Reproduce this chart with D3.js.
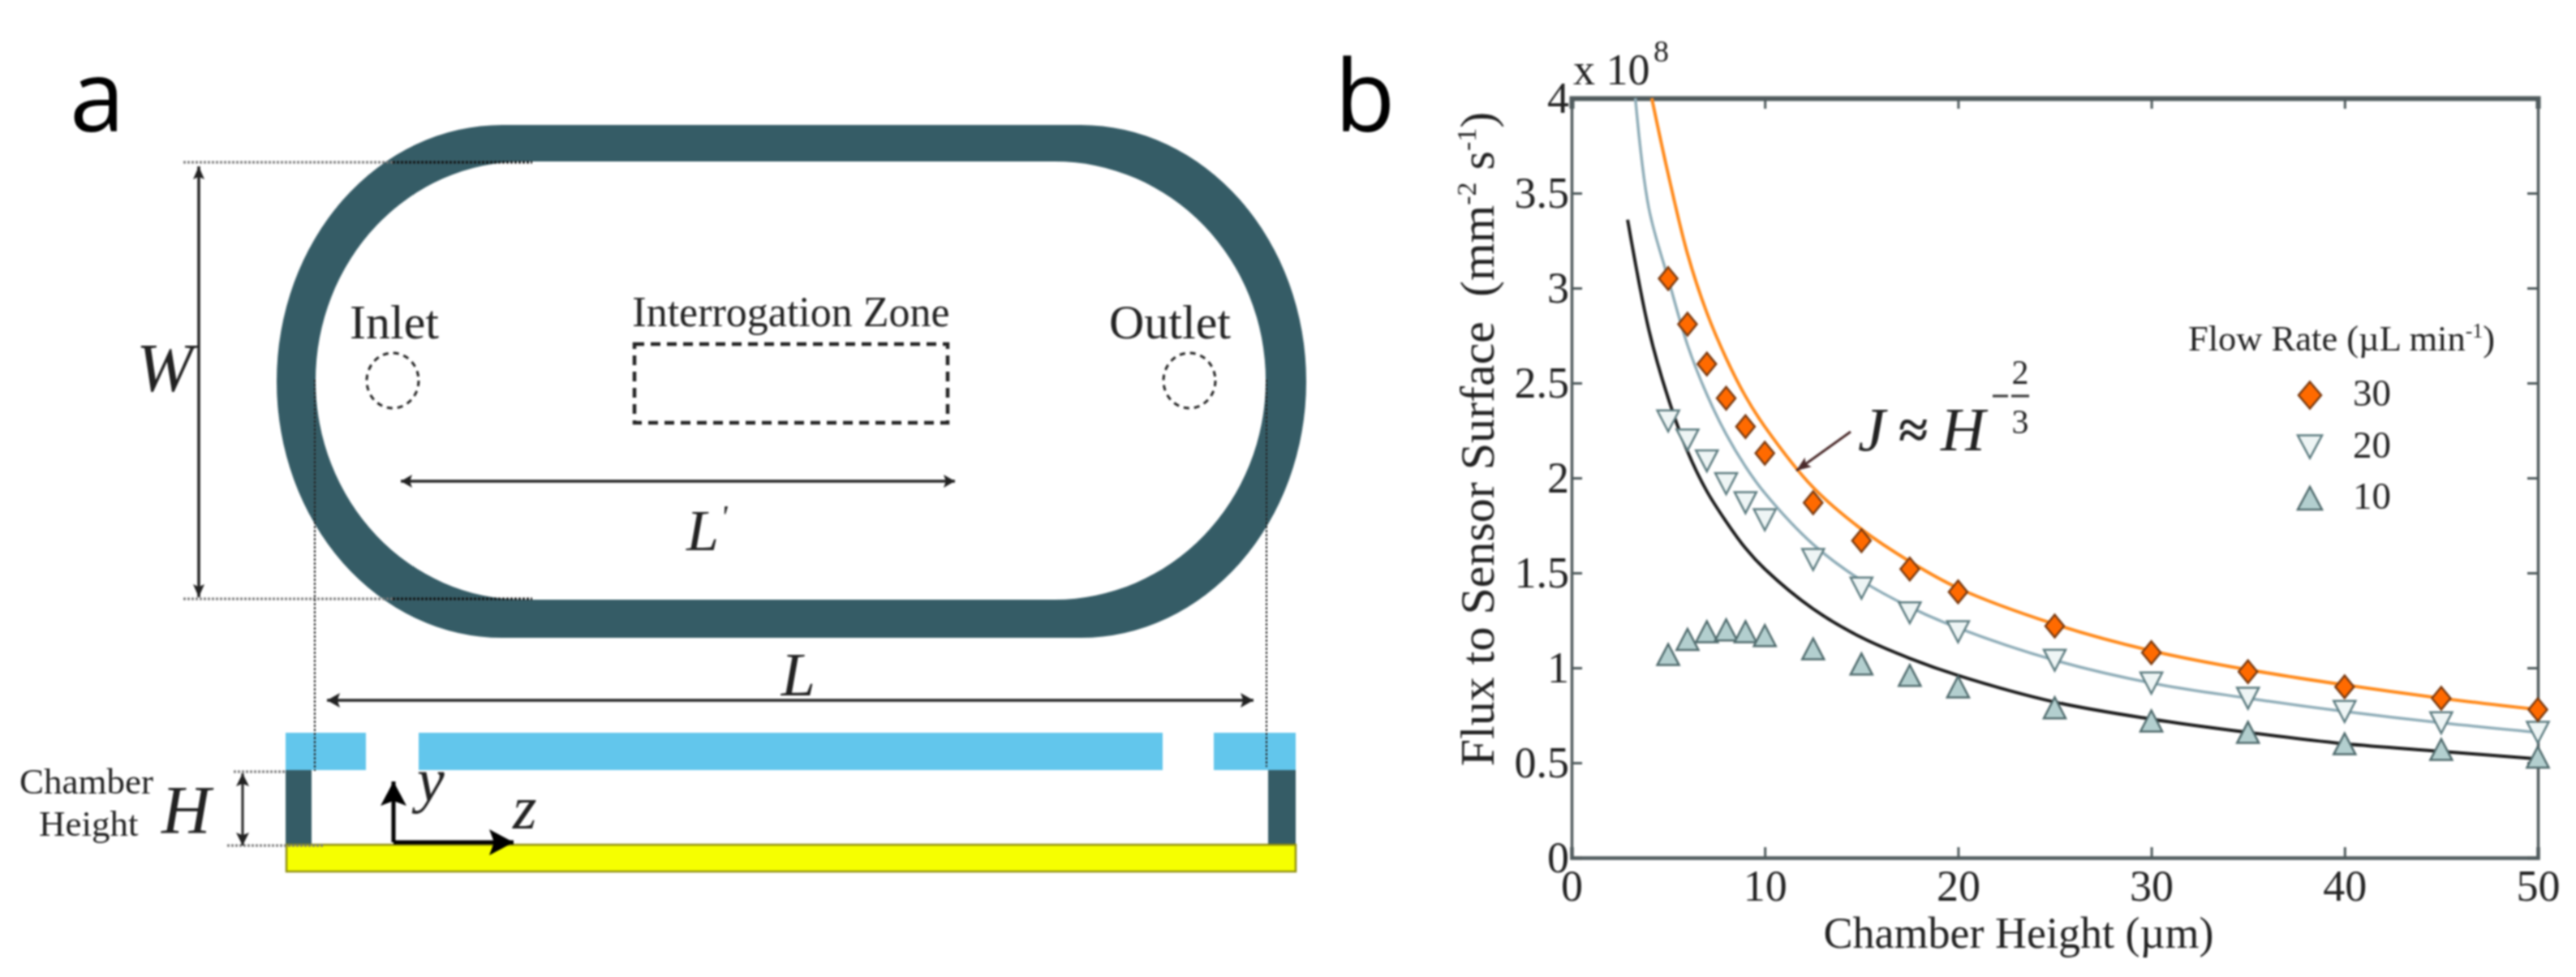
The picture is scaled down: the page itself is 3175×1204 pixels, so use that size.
<!DOCTYPE html>
<html><head><meta charset="utf-8">
<script src="https://cdn.jsdelivr.net/npm/d3@7"></script>
<style>
html,body{margin:0;padding:0;background:#fff}
svg{display:block;filter:blur(1.1px)}
text{font-family:"Liberation Serif",serif;fill:#222}
</style></head><body>
<svg id="c" width="3175" height="1204"></svg>
<script>
// ---- data ----
const heights = [5,6,7,8,9,10,12.5,15,17.5,20,25,30,35,40,45,50];
const flux30 = [3.05,2.81,2.60,2.42,2.27,2.13,1.87,1.67,1.52,1.40,1.22,1.08,0.98,0.90,0.84,0.78];
const flux20 = [2.30,2.20,2.09,1.97,1.87,1.78,1.57,1.42,1.29,1.19,1.04,0.92,0.84,0.77,0.71,0.66];
const flux10 = [1.07,1.15,1.19,1.20,1.19,1.17,1.10,1.02,0.96,0.90,0.79,0.72,0.66,0.60,0.57,0.53];
const fit30X = [4.15,5,6,7,8,9,10,12.5,15,17.5,20,25,30,35,40,45,50];
const fit30Y = [4.0,3.6,3.18,2.87,2.63,2.43,2.27,1.95,1.73,1.56,1.42,1.23,1.09,0.99,0.91,0.84,0.78];
const fit20X = [3.3,4,5,6,7,8,9,10,12.5,15,17.5,20,25,30,35,40,45,50];
const fit20Y = [4.0,3.42,3.05,2.70,2.44,2.23,2.06,1.92,1.65,1.46,1.32,1.21,1.04,0.92,0.84,0.77,0.71,0.66];
const fit10X = [2.9,4,5,6,7,8,9,10,12.5,15,17.5,20,25,30,35,40,45,50];
const fit10Y = [3.36,2.78,2.42,2.14,1.93,1.77,1.63,1.52,1.31,1.16,1.05,0.96,0.82,0.73,0.66,0.60,0.56,0.52];
const xTicks = [0,10,20,30,40,50];
const yTicks = [0,0.5,1,1.5,2,2.5,3,3.5,4];
const yTickLabels = ["0","0.5","1","1.5","2","2.5","3","3.5","4"];
const legendRates = ["30","20","10"];

const svg = d3.select("#c");
const dark = "#355c66";

function arrowHead(g,x,y,ang,len,w,col){
  const c=Math.cos(ang),s=Math.sin(ang);
  const p=[[x,y],[x-len*c+w*s,y-len*s-w*c],[x-len*c*0.8,y-len*s*0.8],[x-len*c-w*s,y-len*s+w*c]];
  g.append("path").attr("d",d3.line()(p)+"Z").attr("fill",col);
}
function arrow(g,x1,y1,x2,y2,opt={}){
  const col=opt.col||"#222",sw=opt.sw||3.5,len=opt.len||16,w=opt.w||8;
  g.append("line").attr("x1",x1).attr("y1",y1).attr("x2",x2).attr("y2",y2).attr("stroke",col).attr("stroke-width",sw);
  const a=Math.atan2(y2-y1,x2-x1);
  arrowHead(g,x2,y2,a,len,w,col);
  if(opt.both) arrowHead(g,x1,y1,a+Math.PI,len,w,col);
}
function txt(g,x,y,s,size,o={}){
  return g.append("text").attr("x",x).attr("y",y).text(s).attr("font-size",size)
    .attr("text-anchor",o.anchor||"start").attr("font-style",o.italic?"italic":null);
}

// ---- panel a: schematic ----
const a = svg.append("g");
txt(a,86,162,"a",122).style("font-family","'Open Sans'").style("fill","#000");
txt(svg,1645,162,"b",122).style("font-family","'Open Sans'").style("fill","#000");

a.append("path").attr("fill-rule","evenodd").attr("fill",dark).attr("d",
 "M619,154 L1332,154 A278,316 0 0 1 1332,786 L619,786 A278,316 0 0 1 619,154 Z "+
 "M645,199 L1300,199 A260,270 0 0 1 1300,739 L645,739 A256,270 0 0 1 645,199 Z");

const dot=(x1,y1,x2,y2,c="#555",sw=2)=>a.append("line").attr("x1",x1).attr("y1",y1).attr("x2",x2).attr("y2",y2)
  .attr("stroke",c).attr("stroke-width",sw).attr("stroke-dasharray","3 2");
dot(226,200,484,200,"#777",3);
dot(226,738,484,738,"#777",3);
dot(484,200,656,200,"#111",3);
dot(484,738,656,738,"#111",3);
dot(388,468,388,950,"#222");
dot(1561,468,1561,945,"#222");
arrow(a,245,205,245,736,{both:true,len:16,w:7});
txt(a,203,482,"W",84,{anchor:"middle",italic:true});

// inner labels
txt(a,486,417,"Inlet",60,{anchor:"middle"});
txt(a,975,402,"Interrogation Zone",52,{anchor:"middle"});
txt(a,1442,417,"Outlet",60,{anchor:"middle"});
a.append("ellipse").attr("cx",484).attr("cy",469).attr("rx",32).attr("ry",34).attr("fill","none").attr("stroke","#222").attr("stroke-width",3).attr("stroke-dasharray","7 6");
a.append("ellipse").attr("cx",1466).attr("cy",469).attr("rx",32).attr("ry",34).attr("fill","none").attr("stroke","#222").attr("stroke-width",3).attr("stroke-dasharray","7 6");
a.append("rect").attr("x",782).attr("y",424).attr("width",386).attr("height",97).attr("fill","none").attr("stroke","#222").attr("stroke-width",4.5).attr("stroke-dasharray","12 8");
arrow(a,494,593,1177,593,{both:true,len:14,w:8,sw:3.5});
txt(a,846,678,"L",72,{italic:true});
txt(a,888,650,"'",40,{italic:true});

// side view
arrow(a,403,863,1545,863,{both:true,len:16,w:9,sw:3.5});
txt(a,984,857,"L",76,{anchor:"middle",italic:true});
const blue="#62c6ec";
[[352,451],[516,1433],[1496,1597]].forEach(d=>a.append("rect").attr("x",d[0]).attr("y",903).attr("width",d[1]-d[0]).attr("height",46).attr("fill",blue));
a.append("rect").attr("x",352).attr("y",949).attr("width",32).attr("height",92).attr("fill",dark);
a.append("rect").attr("x",1563).attr("y",949).attr("width",34).attr("height",92).attr("fill",dark);
a.append("rect").attr("x",353).attr("y",1041).attr("width",1244).attr("height",33).attr("fill","#f6ff00").attr("stroke","#8f8f10").attr("stroke-width",2.5);
dot(288,951,352,951,"#777",3);
dot(280,1042,400,1042,"#777",3);
dot(388,903,388,950,"#222");
dot(1561,903,1561,945,"#222");
arrow(a,299,953,299,1042,{both:true,len:16,w:8,sw:3});
txt(a,24,978,"Chamber",45);
txt(a,48,1030,"Height",45);
txt(a,199,1027,"H",84,{italic:true});
arrow(a,485,1038,485,963,{col:"#000",sw:5,len:30,w:16});
arrow(a,485,1038,633,1038,{col:"#000",sw:5,len:30,w:16});
txt(a,514,987,"y",76,{italic:true});
txt(a,632,1021,"z",76,{italic:true});

// ---- panel b: chart ----
const x=d3.scaleLinear().domain([0,50]).range([1937,3128]);
const y=d3.scaleLinear().domain([0,4]).range([1057,121]);
const axCol="#4f5a5c";
const fmtY=d=>yTickLabels[yTicks.indexOf(d)];
function styleAxis(g,showText,w){
  g.select(".domain").attr("stroke",axCol).attr("stroke-width",w);
  g.selectAll(".tick line").attr("stroke",axCol).attr("stroke-width",3);
  g.selectAll(".tick text").attr("font-size",54).attr("font-family","Liberation Serif").attr("fill","#222");
  if(!showText) g.selectAll(".tick text").remove();
}
svg.append("g").attr("transform",`translate(0,${y(0)})`)
  .call(d3.axisBottom(x).tickValues(xTicks).tickSize(-13).tickPadding(15)).call(g=>styleAxis(g,true,4.5));
svg.append("g").attr("transform",`translate(0,${y(4)})`)
  .call(d3.axisTop(x).tickValues(xTicks).tickSize(-13)).call(g=>styleAxis(g,false,6));
svg.append("g").attr("transform",`translate(${x(0)},0)`)
  .call(d3.axisLeft(y).tickValues(yTicks).tickFormat(fmtY).tickSize(-13).tickPadding(3)).call(g=>styleAxis(g,true,3.5));
svg.append("g").attr("transform",`translate(${x(50)},0)`)
  .call(d3.axisRight(y).tickValues(yTicks).tickSize(-13)).call(g=>styleAxis(g,false,3.5));

txt(svg,1939,104,"x 10",54);
txt(svg,2038,76,"8",38);

// axis titles
txt(svg,2488,1168,"Chamber Height (µm)",54,{anchor:"middle"});
const yt=svg.append("text").attr("transform","translate(1841,541) rotate(-90)").attr("text-anchor","middle").attr("font-size",60);
yt.append("tspan").text("Flux to Sensor Surface\u00A0\u00A0(mm");
yt.append("tspan").text("-2").attr("font-size",34).attr("dy",-22);
yt.append("tspan").text(" s").attr("dy",22);
yt.append("tspan").text("-1").attr("font-size",34).attr("dy",-22);
yt.append("tspan").text(")").attr("dy",22);

// fitted curves
const line=d3.line().x(d=>x(d[0])).y(d=>y(d[1])).curve(d3.curveCatmullRom.alpha(0.5));
[[fit10X,fit10Y,"#1c1c1c",4],[fit20X,fit20Y,"#8fadb8",3.5],[fit30X,fit30Y,"#ff8a1c",4]].forEach(s=>{
  svg.append("path").datum(d3.zip(s[0],s[1])).attr("d",line).attr("fill","none").attr("stroke",s[2]).attr("stroke-width",s[3]);
});

// markers
const diamond=(w,h)=>`M0,${-h/2}L${w/2},0L0,${h/2}L${-w/2},0Z`;
const down=(w,h)=>`M${-w/2},${-h*0.5}L${w/2},${-h*0.5}L0,${h*0.5}Z`;
const up=(w,h)=>`M${-w/2},${h*0.5}L${w/2},${h*0.5}L0,${-h*0.5}Z`;
const styles={
  "10":{d:up(27,26),fill:"#b3cfcf",stroke:"#4f6a6c"},
  "20":{d:down(27,26),fill:"#eef5f5",stroke:"#5d7c80"},
  "30":{d:diamond(23,28),fill:"#ff6a00",stroke:"#7a3a10"}
};
[[flux10,"10"],[flux20,"20"],[flux30,"30"]].forEach(([vals,k])=>{
  svg.append("g").selectAll("path").data(d3.zip(heights,vals)).join("path")
    .attr("transform",d=>`translate(${x(d[0])},${y(d[1])})`)
    .attr("d",styles[k].d).attr("fill",styles[k].fill).attr("stroke",styles[k].stroke).attr("stroke-width",2.5);
});

// annotation
arrow(svg,2281,532,2214,580,{col:"#4a2a2a",sw:3,len:18,w:7});
txt(svg,2290,555,"J",76,{italic:true});
txt(svg,2358,552,"≈",66,{anchor:"middle"}).attr("font-weight","bold");
txt(svg,2392,555,"H",76,{italic:true});
svg.append("line").attr("x1",2456).attr("x2",2475).attr("y1",488).attr("y2",488).attr("stroke","#333").attr("stroke-width",3);
svg.append("line").attr("x1",2479).attr("x2",2501).attr("y1",488).attr("y2",488).attr("stroke","#333").attr("stroke-width",3);
txt(svg,2490,473,"2",42,{anchor:"middle"});
txt(svg,2490,534,"3",42,{anchor:"middle"});

// legend
const lt=svg.append("text").attr("x",2697).attr("y",432).attr("font-size",44.5);
lt.append("tspan").text("Flow Rate (µL min");
lt.append("tspan").text("-1").attr("font-size",26).attr("dy",-16);
lt.append("tspan").text(")").attr("dy",16);
const legY=d3.scalePoint().domain(legendRates).range([487,614]);
const legSize={"30":diamond(28,33),"20":down(30,28),"10":up(30,28)};
legendRates.forEach(k=>{
  svg.append("path").attr("transform",`translate(2847,${legY(k)})`).attr("d",legSize[k])
    .attr("fill",styles[k].fill).attr("stroke",styles[k].stroke).attr("stroke-width",2.5);
  txt(svg,2900,legY(k)+13,k,47);
});
</script>
</body></html>
